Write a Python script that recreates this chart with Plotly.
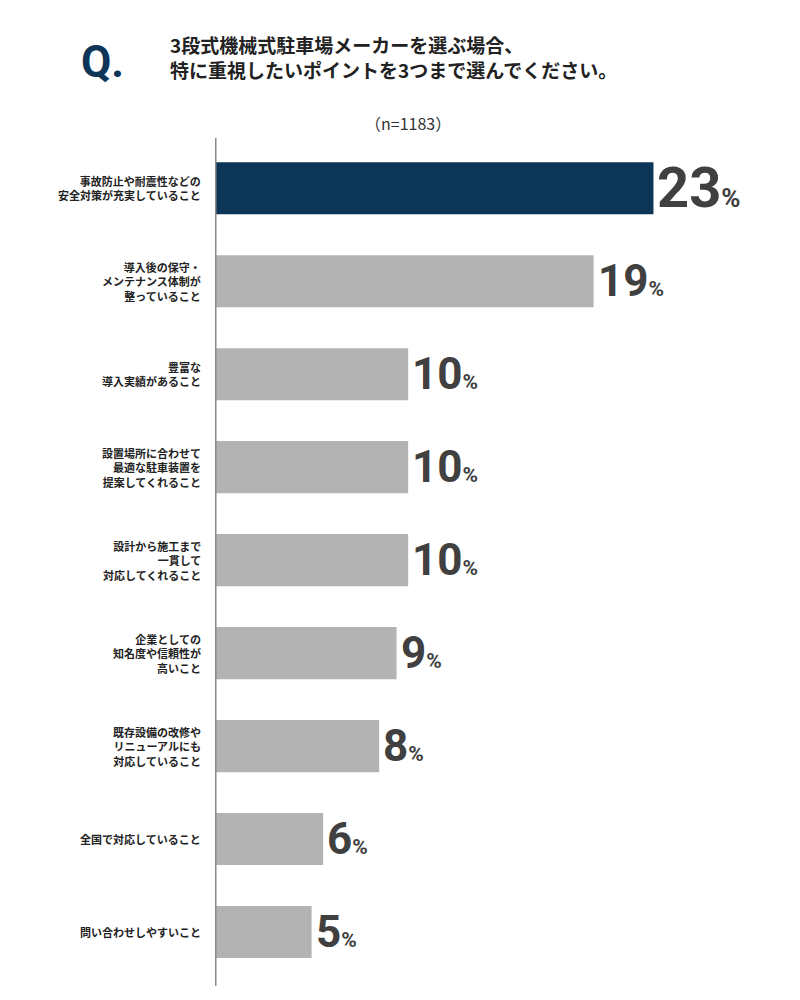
import plotly.graph_objects as go

categories = [
    "事故防止や耐震性などの<br>安全対策が充実していること",
    "導入後の保守・<br>メンテナンス体制が<br>整っていること",
    "豊富な<br>導入実績があること",
    "設置場所に合わせて<br>最適な駐車装置を<br>提案してくれること",
    "設計から施工まで<br>一貫して<br>対応してくれること",
    "企業としての<br>知名度や信頼性が<br>高いこと",
    "既存設備の改修や<br>リニューアルにも<br>対応していること",
    "全国で対応していること",
    "問い合わせしやすいこと",
]
values = [22.7, 19.6, 10.0, 10.0, 10.0, 9.4, 8.5, 5.6, 5.0]
labels = ["23", "19", "10", "10", "10", "9", "8", "6", "5"]

colors = ["#0d3558"] + ["#b3b3b3"] * (len(values) - 1)
idx = list(range(len(values)))

fig = go.Figure(go.Bar(
    x=values, y=idx, orientation="h",
    marker=dict(color=colors, line=dict(width=0)),
    width=0.56, hoverinfo="skip",
))

for i, (v, lab, cat) in enumerate(zip(values, labels, categories)):
    big = 56 if i == 0 else 44
    small = 26 if i == 0 else 21
    fig.add_annotation(x=v, y=i, xref="x", yref="y", xanchor="left", yanchor="middle",
                       xshift=2, showarrow=False,
                       text=f"<b><span style='font-size:{big}px'>{lab}</span>"
                            f"<span style='font-size:{small}px'>%</span></b>",
                       font=dict(family="Roboto", color="#404040"))
    fig.add_annotation(x=0, y=i, xref="paper", yref="y", xanchor="right",
                       yanchor="middle", xshift=-12, align="right", showarrow=False,
                       text=f"<b>{cat}</b>", font=dict(size=11, color="#222"))

# vertical axis line
fig.add_shape(type="line", xref="x", yref="paper", x0=0, x1=0, y0=0, y1=1,
              line=dict(color="#888", width=3))

# title
fig.add_annotation(x=-0.19, y=1.09, xref="paper", yref="paper", xanchor="center",
                   yanchor="middle", showarrow=False, text="<b>Q.</b>",
                   font=dict(size=44, color="#0d3558", family="Roboto"))
fig.add_annotation(x=-0.08, y=1.095, xref="paper", yref="paper", xanchor="left",
                   yanchor="middle", showarrow=False, align="left",
                   text="<b>3段式機械式駐車場メーカーを選ぶ場合、<br>特に重視したいポイントを3つまで選んでください。</b>",
                   font=dict(size=19, color="#222"))
fig.add_annotation(x=0.325, y=1.018, xref="paper", yref="paper", xanchor="center",
                   yanchor="middle", showarrow=False, text="（n=1183）",
                   font=dict(size=16, color="#333"))

fig.update_layout(
    width=800, height=1000,
    margin=dict(l=207, r=0, t=130, b=22, autoexpand=False),
    plot_bgcolor="white", paper_bgcolor="white",
    showlegend=False,
    font=dict(family="Noto Sans CJK JP"),
    xaxis=dict(range=[0, 30.7], visible=False, fixedrange=True),
    yaxis=dict(range=[8.58, -0.54], visible=False, fixedrange=True),
)

fig.write_html("out.html")
